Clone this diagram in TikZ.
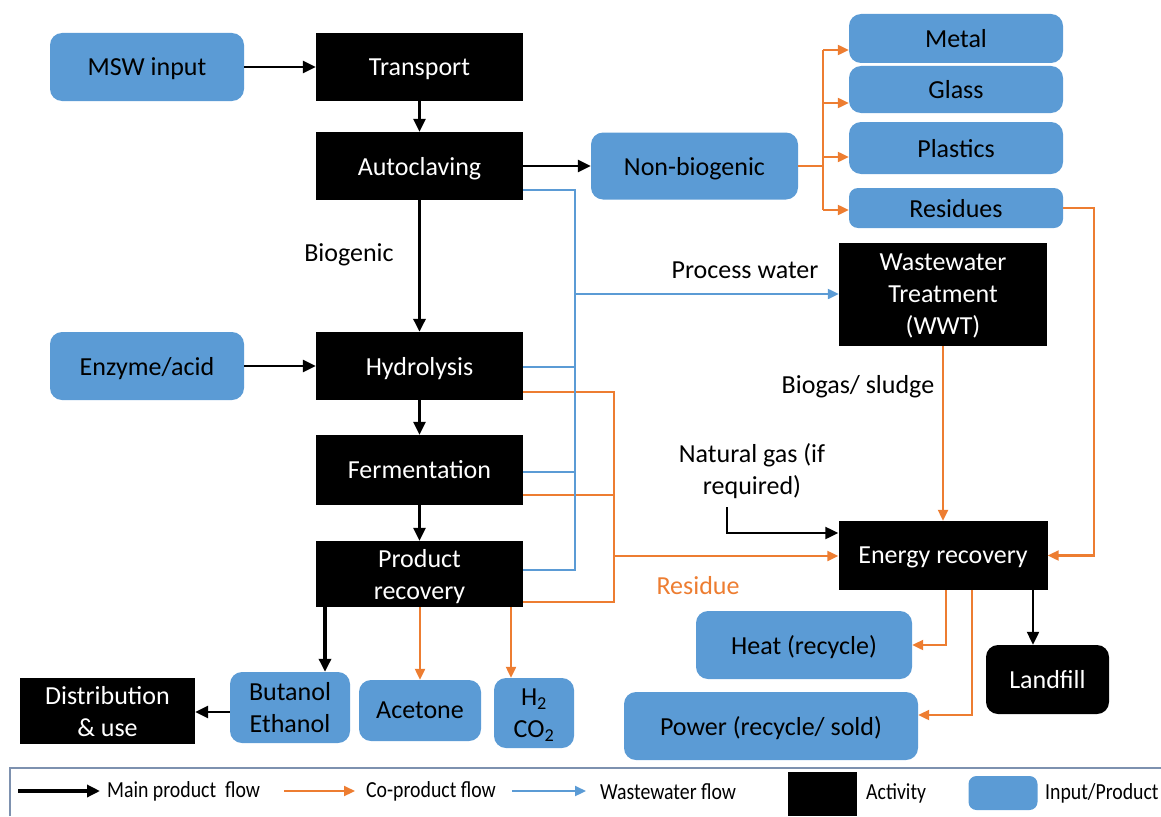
\documentclass[tikz,border=0pt]{standalone}
\usepackage{fontspec}
\setmainfont{Carlito}
\newfontfamily\condfont[FakeStretch=0.86]{Carlito}
\usetikzlibrary{arrows.meta,calc}
\definecolor{bluebox}{RGB}{91,155,213}
\definecolor{orng}{RGB}{237,125,49}
\definecolor{legline}{RGB}{125,145,175}
\begin{document}
\begin{tikzpicture}[x=1pt,y=-1pt,
 font=\fontsize{26}{32}\selectfont,
 act/.style={fill=black,text=white,align=center,inner sep=0pt,text depth=0pt},
 prod/.style={fill=bluebox,text=black,rounded corners=12pt,align=center,inner sep=0pt,text depth=0pt},
 lbl/.style={align=center,inner sep=0pt},
 mainflow/.style={line width=2.8pt,-{Triangle[length=13pt,width=12pt]}},
 coflow/.style={orng,line width=2.2pt,-{Triangle[length=11pt,width=10pt]}},
 wwflow/.style={bluebox,line width=2.2pt,-{Triangle[length=11pt,width=10pt]}},
 coline/.style={orng,line width=2.2pt},
 wwline/.style={bluebox,line width=2.2pt},
 legtext/.style={anchor=west,inner sep=0pt,font=\condfont\fontsize{23}{26}\selectfont},
]
\useasboundingbox (0,0) rectangle (1161,816);

% nodes
\node[prod,minimum width=194pt,minimum height=68pt] (msw) at (147,67) {MSW input};
\node[act,minimum width=207pt,minimum height=68pt] (transport) at (419.5,67) {Transport};
\node[act,minimum width=207pt,minimum height=68pt] (autoc) at (419.5,166) {Autoclaving};
\node[prod,minimum width=207pt,minimum height=67pt] (nonbio) at (694.5,166) {Non-biogenic};
\node[prod,minimum width=214pt,minimum height=49pt] (metal) at (956,38.5) {Metal};
\node[prod,minimum width=214pt,minimum height=47pt] (glass) at (956,89.5) {Glass};
\node[prod,minimum width=214pt,minimum height=52pt] (plastics) at (956,148) {Plastics};
\node[prod,minimum width=214pt,minimum height=40pt,rounded corners=9pt] (residues) at (956,208) {Residues};
\node[act,minimum width=208pt,minimum height=103pt] (wwt) at (943,294.5) {Wastewater\\Treatment\\(WWT)};
\node[prod,minimum width=194pt,minimum height=68pt] (enzyme) at (147,366) {Enzyme/acid};
\node[act,minimum width=207pt,minimum height=68pt] (hydro) at (419.5,366) {Hydrolysis};
\node[act,minimum width=207pt,minimum height=70pt] (ferm) at (419.5,470) {Fermentation};
\node[act,minimum width=207pt,minimum height=66pt] (prec) at (419.5,574) {Product\\recovery};
\node[act,minimum width=209pt,minimum height=69pt] (er) at (943,555.5) {Energy recovery};
\node[prod,minimum width=216pt,minimum height=68pt] (heat) at (804,645) {Heat (recycle)};
\node[act,rounded corners=12pt,minimum width=123pt,minimum height=69pt] (landfill) at (1047.5,679.5) {Landfill};
\node[prod,minimum width=294pt,minimum height=68pt] (power) at (771,726) {Power (recycle/ sold)};
\node[prod,minimum width=120pt,minimum height=71pt] (butanol) at (290,707.5) {Butanol\\Ethanol};
\node[prod,minimum width=122pt,minimum height=61pt] (acetone) at (420,710.5) {Acetone};
\node[prod,minimum width=80pt,minimum height=70pt] (h2) at (534,713) {H\textsubscript{2}\\CO\textsubscript{2}};
\node[act,minimum width=175pt,minimum height=66pt] (dist) at (107.5,711) {Distribution\\\& use};

% labels
\node[lbl] (biogenic) at (349,255) {Biogenic};
\node[lbl] (pwater) at (745,270) {Process water};
\node[lbl] (biogas) at (858,387) {Biogas/ sludge};
\node[lbl] (ngas) at (752,471) {Natural gas (if\\required)};
\node[lbl,text=orng] (residue) at (698,586) {Residue};

% main flows
\draw[mainflow] (msw) -- (transport);
\draw[mainflow] (transport) -- (autoc);
\draw[mainflow] (autoc) -- (nonbio);
\draw[mainflow,line width=3.2pt] (autoc) -- (hydro);
\draw[mainflow] (enzyme) -- (hydro);
\draw[mainflow] (hydro) -- (ferm);
\draw[mainflow] (ferm) -- (prec);
\draw[mainflow,line width=3.2pt] (prec.south -| 325,0) -- (butanol.north -| 325,0);
\draw[mainflow] (butanol.west |- 0,712) -- (dist.east |- 0,712);
\coordinate (ngs) at (727,507);
\draw[mainflow,line width=2.2pt] (ngs) |- (er.west |- 0,533);
\draw[mainflow,line width=2.2pt] (er.south -| 1033,0) -- (landfill.north -| 1033,0);

% co-product flows
\draw[coflow] (prec.south -| 420,0) -- (acetone.north);
\draw[coflow] (prec.south -| 511,0) -- (h2.north -| 511,0);
\coordinate (nb1) at (823,50);
\coordinate (nb4) at (823,210);
\draw[coline] (nonbio.east) -- (nonbio.east -| nb1);
\draw[coline] (nb1) -- (nb4);
\draw[coflow] (nb1) -- (metal.west |- nb1);
\draw[coflow] (823,103) -- (glass.west |- 0,103);
\draw[coflow] (823,157) -- (plastics.west |- 0,157);
\draw[coflow] (nb4) -- (residues.west |- nb4);
\draw[coflow] (residues.east) -- ++(31,0) |- (er.east);
\draw[coline] (hydro.east |- 0,392) -- (614,392) -- (614,602) -- (prec.east |- 0,602);
\draw[coline] (ferm.east |- 0,495) -- (614,495);
\draw[coflow] (614,556) -- (er.west |- 0,556);
\draw[coflow] (wwt.south) -- (er.north);
\draw[coflow] (er.south -| 946,0) |- (heat.east);
\draw[coflow] (er.south -| 972,0) |- (power.east |- 0,715);

% wastewater flows
\draw[wwline] (autoc.east |- 0,190) -- (575,190) -- (575,570) -- (prec.east |- 0,570);
\draw[wwline] (hydro.east |- 0,367) -- (575,367);
\draw[wwline] (ferm.east |- 0,472) -- (575,472);
\draw[wwflow] (575,294) -- (wwt.west |- 0,294);

% legend
\draw[legline,line width=1.5pt] (10,816) -- (10,768) -- (1161,768);
\coordinate (l1a) at (18,791); \coordinate (l1b) at (100,791);
\draw[mainflow,line width=3.5pt] (l1a) -- (l1b);
\node[legtext] (lt1) at (107,791) {Main product\ \ flow};
\coordinate (l2a) at (284,791); \coordinate (l2b) at (355,791);
\draw[coflow] (l2a) -- (l2b);
\node[legtext] (lt2) at (366,791) {Co-product flow};
\coordinate (l3a) at (512,791); \coordinate (l3b) at (586,791);
\draw[wwflow] (l3a) -- (l3b);
\node[legtext] (lt3) at (600,792) {Wastewater flow};
\node[fill=black,minimum width=69pt,minimum height=44pt,inner sep=0pt] (lact) at (822,794) {};
\node[legtext] (lt4) at (866,793) {Activity};
\node[fill=bluebox,rounded corners=8pt,minimum width=69pt,minimum height=34pt,inner sep=0pt] (lprod) at (1003,793) {};
\node[legtext] (lt5) at (1045,793) {Input/Product};
\end{tikzpicture}
\end{document}
